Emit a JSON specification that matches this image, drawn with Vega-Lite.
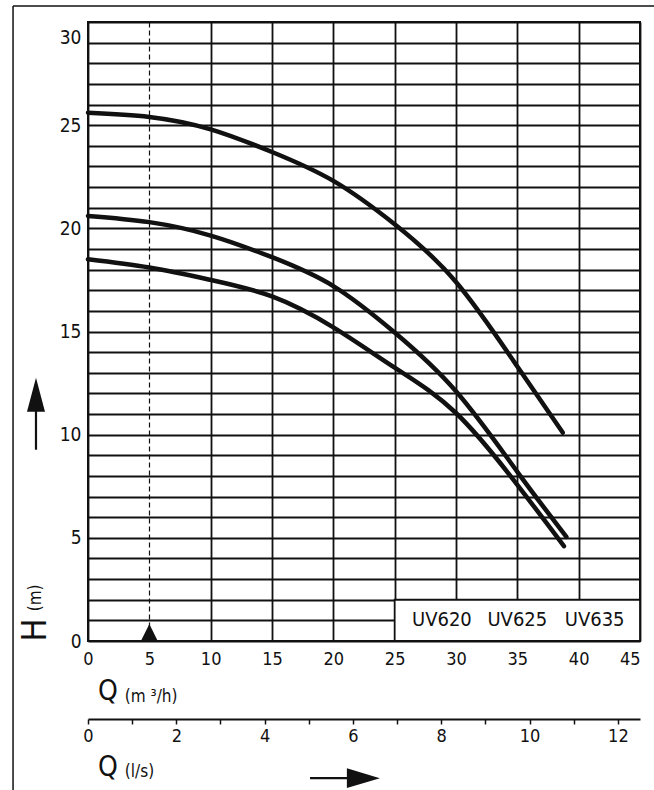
{
  "$schema": "https://vega.github.io/schema/vega-lite/v6.json",
  "width": 552,
  "height": 619,
  "autosize": {"type": "none"},
  "padding": {"left": 88, "top": 22, "right": 14, "bottom": 149},
  "background": "white",
  "config": {
    "view": {"stroke": "#111", "strokeWidth": 2},
    "font": "DejaVu Sans Condensed",
    "text": {"font": "DejaVu Sans Condensed", "color": "#111"}
  },
  "datasets": {
    "curves": [
      {"pump": "UV635", "Q": 0, "H": 25.6},
      {"pump": "UV635", "Q": 5, "H": 25.4},
      {"pump": "UV635", "Q": 10, "H": 24.8},
      {"pump": "UV635", "Q": 15, "H": 23.7},
      {"pump": "UV635", "Q": 20, "H": 22.3},
      {"pump": "UV635", "Q": 25, "H": 20.2},
      {"pump": "UV635", "Q": 30, "H": 17.4},
      {"pump": "UV635", "Q": 35, "H": 13.3},
      {"pump": "UV635", "Q": 38.7, "H": 10.1},
      {"pump": "UV625", "Q": 0, "H": 20.6},
      {"pump": "UV625", "Q": 5, "H": 20.3},
      {"pump": "UV625", "Q": 10, "H": 19.65},
      {"pump": "UV625", "Q": 15, "H": 18.6},
      {"pump": "UV625", "Q": 20, "H": 17.2},
      {"pump": "UV625", "Q": 25, "H": 14.95},
      {"pump": "UV625", "Q": 30, "H": 12.1},
      {"pump": "UV625", "Q": 35, "H": 8.2},
      {"pump": "UV625", "Q": 39.0, "H": 5.05},
      {"pump": "UV620", "Q": 0, "H": 18.5},
      {"pump": "UV620", "Q": 5, "H": 18.1},
      {"pump": "UV620", "Q": 10, "H": 17.5},
      {"pump": "UV620", "Q": 15, "H": 16.7},
      {"pump": "UV620", "Q": 20, "H": 15.2},
      {"pump": "UV620", "Q": 25, "H": 13.25},
      {"pump": "UV620", "Q": 30, "H": 11.05},
      {"pump": "UV620", "Q": 35, "H": 7.57},
      {"pump": "UV620", "Q": 38.8, "H": 4.6}
    ],
    "box": [{"Q": 25, "Q2": 45, "H": 0, "H2": 2}],
    "boxText": [
      {"Q": 28.85, "H": 1.0, "label": "UV620"},
      {"Q": 35.0, "H": 1.0, "label": "UV625"},
      {"Q": 41.3, "H": 1.0, "label": "UV635"}
    ],
    "marker": [{"Q": 5, "H": 0.4}],
    "bigText": [
      {"Q": 1.63, "H": -2.48, "label": "Q"},
      {"Q": 1.63, "H": -6.17, "label": "Q"}
    ],
    "smallText": [
      {"Q": 3.0, "H": -2.72, "label": "(m ³/h)"},
      {"Q": 3.0, "H": -6.36, "label": "(l/s)"}
    ],
    "hText": [{"Q": -4.24, "H": 0.53, "label": "H"}],
    "mText": [{"Q": -4.24, "H": 2.09, "label": "(m)"}],
    "arrowShafts": [
      {"Q": -4.24, "Q2": -4.24, "H": 9.27, "H2": 11.5},
      {"Q": 18.1, "Q2": 21.3, "H": -6.65, "H2": -6.65}
    ],
    "upHead": [{"Q": -4.24, "H": 11.94}],
    "rightHead": [{"Q": 22.45, "H": -6.65}],
    "frame": [
      {"Q": -6.11, "Q2": -6.11, "H": 30.78, "H2": -9},
      {"Q": -6.11, "Q2": 47, "H": 30.78, "H2": 30.78}
    ],
    "ls": [{"ls": 0}, {"ls": 12.5}]
  },
  "layer": [
    {
      "encoding": {
        "x": {
          "field": "Q", "type": "quantitative",
          "scale": {"domain": [0, 45], "nice": false, "zero": false},
          "axis": {
            "title": null, "domain": false, "ticks": false,
            "values": [0, 5, 10, 15, 20, 25, 30, 35, 40, 45],
            "grid": true, "gridColor": "#111", "gridOpacity": 1,
            "gridWidth": {"condition": {"test": "datum.value === 5", "value": 1.2}, "value": 1.8},
            "gridDash": {"condition": {"test": "datum.value === 5", "value": [5, 3]}, "value": []},
            "labelFontSize": 18, "labelColor": "#111", "labelPadding": 9,
            "labelFlush": false,
            "labelAlign": {"condition": {"test": "datum.value === 45", "value": "right"}, "value": "center"},
            "labelFont": "DejaVu Sans Condensed"
          }
        },
        "y": {
          "field": "H", "type": "quantitative",
          "scale": {"domain": [0, 30], "nice": false, "zero": false},
          "axis": {
            "title": null, "domain": false, "ticks": false,
            "values": [0, 1, 2, 3, 4, 5, 6, 7, 8, 9, 10, 11, 12, 13, 14, 15, 16, 17, 18, 19, 20, 21, 22, 23, 24, 25, 26, 27, 28, 29, 30],
            "labelExpr": "datum.value % 5 === 0 ? datum.label : ''",
            "grid": true, "gridColor": "#111", "gridOpacity": 1, "gridWidth": 1.8,
            "labelFontSize": 19, "labelColor": "#111", "labelPadding": 7,
            "labelBaseline": "middle",
            "labelOffset": {"condition": {"test": "datum.value === 30", "value": 15}, "value": 0},
            "labelFont": "DejaVu Sans Condensed"
          }
        }
      },
      "layer": [
        {
          "data": {"name": "box"},
          "mark": {"type": "rect", "fill": "white", "stroke": "#111", "strokeWidth": 1.8},
          "encoding": {"x2": {"field": "Q2"}, "y2": {"field": "H2"}}
        },
        {
          "data": {"name": "marker"},
          "mark": {"type": "point", "filled": true, "color": "#111", "opacity": 1, "shape": "M0,-1L1,1L-1,1Z", "size": 300}
        },
        {
          "data": {"name": "curves"},
          "mark": {"type": "line", "color": "#111", "strokeWidth": 4.5, "interpolate": "natural", "strokeCap": "round"},
          "encoding": {"detail": {"field": "pump"}}
        },
        {
          "data": {"name": "boxText"},
          "mark": {"type": "text", "fontSize": 20, "align": "center", "baseline": "middle"},
          "encoding": {"text": {"field": "label"}}
        },
        {
          "data": {"name": "bigText"},
          "mark": {"type": "text", "fontSize": 28, "align": "center", "baseline": "middle"},
          "encoding": {"text": {"field": "label"}}
        },
        {
          "data": {"name": "smallText"},
          "mark": {"type": "text", "fontSize": 17, "align": "left", "baseline": "middle"},
          "encoding": {"text": {"field": "label"}}
        },
        {
          "data": {"name": "hText"},
          "mark": {"type": "text", "fontSize": 34, "align": "center", "baseline": "middle", "angle": 270},
          "encoding": {"text": {"field": "label"}}
        },
        {
          "data": {"name": "mText"},
          "mark": {"type": "text", "fontSize": 17, "align": "center", "baseline": "middle", "angle": 270},
          "encoding": {"text": {"field": "label"}}
        },
        {
          "data": {"name": "arrowShafts"},
          "mark": {"type": "rule", "color": "#111", "strokeWidth": 2.2},
          "encoding": {"x2": {"field": "Q2"}, "y2": {"field": "H2"}}
        },
        {
          "data": {"name": "upHead"},
          "mark": {"type": "point", "filled": true, "color": "#111", "opacity": 1, "shape": "M0,-1L0.53,1L-0.53,1Z", "size": 1156}
        },
        {
          "data": {"name": "rightHead"},
          "mark": {"type": "point", "filled": true, "color": "#111", "opacity": 1, "shape": "M1,0L-1,0.6L-1,-0.6Z", "size": 1089}
        },
        {
          "data": {"name": "frame"},
          "mark": {"type": "rule", "color": "#111", "strokeWidth": 1.5},
          "encoding": {"x2": {"field": "Q2"}, "y2": {"field": "H2"}}
        }
      ]
    },
    {
      "data": {"name": "ls"},
      "mark": {"type": "point", "opacity": 0},
      "encoding": {
        "x": {
          "field": "ls", "type": "quantitative",
          "scale": {"domain": [0, 12.5], "nice": false, "zero": false},
          "axis": {
            "orient": "bottom", "offset": 78, "title": null, "grid": false,
            "values": [0, 1, 2, 3, 4, 5, 6, 7, 8, 9, 10, 11, 12],
            "labelExpr": "datum.value % 2 === 0 ? datum.label : ''",
            "domainColor": "#111", "domainWidth": 2,
            "tickColor": "#111", "tickWidth": 1.5, "tickSize": 5,
            "labelFontSize": 18, "labelColor": "#111", "labelPadding": 3,
            "labelFlush": false, "labelFont": "DejaVu Sans Condensed"
          }
        }
      }
    }
  ],
  "resolve": {"scale": {"x": "independent"}, "axis": {"x": "independent"}}
}
